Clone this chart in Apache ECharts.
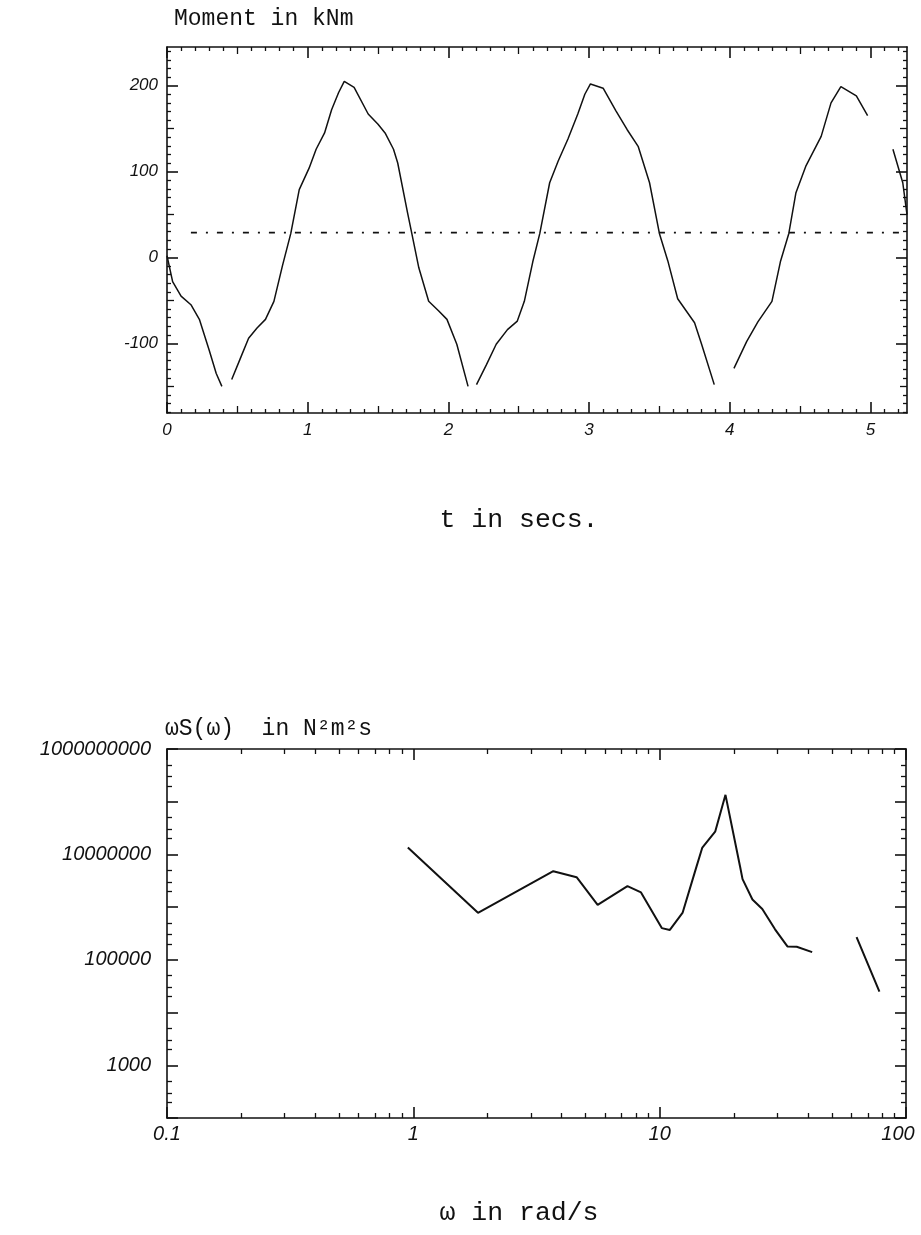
<!DOCTYPE html>
<html>
<head>
<meta charset="utf-8">
<script src="https://cdn.jsdelivr.net/npm/echarts@6/dist/echarts.min.js"></script>
<style>
html,body{margin:0;padding:0;background:#fff;}
#c{width:921px;height:1235px;}
</style>
</head>
<body>
<div id="c"></div>
<script>
// ---------- data: upper plot (moment time history) ----------
const timeS = [0, 0.04, 0.1, 0.17, 0.23, 0.3, 0.35, 0.39, null,
  0.46, 0.52, 0.58, 0.64, 0.7, 0.76, 0.82, 0.88, 0.94, 1.01, 1.06, 1.12, 1.17, 1.22, 1.26, 1.33, 1.43, 1.5, 1.55, 1.61, 1.64, 1.71, 1.74, 1.79, 1.86, 1.93, 1.99, 2.06, 2.14, null,
  2.2, 2.27, 2.34, 2.42, 2.49, 2.54, 2.6, 2.65, 2.72, 2.78, 2.85, 2.92, 2.97, 3.01, 3.1, 3.19, 3.27, 3.35, 3.43, 3.5, 3.56, 3.63, 3.69, 3.75, 3.8, 3.89, null,
  4.03, 4.12, 4.2, 4.3, 4.36, 4.42, 4.47, 4.54, 4.65, 4.72, 4.79, 4.9, 4.98, null,
  5.16, 5.23, 5.26];
const momentKNm = [2, -28, -45, -55, -72, -108, -135, -150, null,
  -142, -118, -94, -82, -72, -51, -10, 28, 79, 104, 126, 145, 172, 192, 205, 198, 167, 155, 145, 126, 110, 52, 28, -12, -51, -62, -72, -101, -150, null,
  -148, -125, -101, -84, -74, -51, -5, 28, 87, 112, 138, 167, 190, 202, 197, 171, 149, 129, 87, 28, -4, -48, -62, -76, -101, -148, null,
  -129, -98, -75, -51, -5, 28, 75, 106, 141, 180, 199, 188, 165, null,
  126, 87, 50];
const meanLevelT = [0.17, 5.24];
const meanLevelM = [29, 29];

// ---------- data: lower plot (response spectrum) ----------
const omegaRadS = [0.95, 1.83, 3.7, 4.6, 5.6, 7.4, 8.4, 10.2, 11, 12.4, 14, 14.9, 16.8, 18.5, 21.2, 21.7, 23.8, 26.1, 29.4, 33, 36, 41.6, null, 63, 78];
const omegaS = [1.35e7, 7.8e5, 4.8e6, 3.7e6, 1.1e6, 2.5e6, 1.9e6, 4e5, 3.7e5, 7.9e5, 5.2e6, 1.35e7, 2.7e7, 1.35e8, 5.9e6, 3.4e6, 1.4e6, 9.2e5, 3.8e5, 1.8e5, 1.77e5, 1.4e5, null, 2.7e5, 2.5e4];

// ---------- ticks ----------
const tTicks = [0, 1, 2, 3, 4, 5];
const mTicks = [-100, 0, 100, 200];
const sLabelExponents = [3, 5, 7, 9];

// ---------- axis ranges ----------
const T_MIN = 0, T_MAX = 5.26;
const M_MIN = -181, M_MAX = 245;
const W_MIN = 0.1, W_MAX = 100;
const S_MIN = 1e2, S_MAX = 1e9;

// derived tick sets (styling only)
const tHalf = [], tMinor = [];
for (let i = 1; i <= 52; i++) { const v = +(i / 10).toFixed(1); if (i % 10 === 5) tHalf.push(v); else if (i % 10 !== 0) tMinor.push(v); }
const mHalf = [], mMinor = [];
for (let v = -180; v <= 240; v += 10) { if (v % 100 === 0) continue; if (v % 50 === 0) mHalf.push(v); else mMinor.push(v); }
const wMinorExp = [];
for (let d = -1; d < 2; d++) for (let k = 2; k <= 9; k++) wMinorExp.push(d + Math.log10(k));
const sMinorExp = [];
for (let d = 2; d < 9; d++) for (let k of [2, 3, 5]) sMinorExp.push(d + Math.log10(k));

const INK = '#111';
const TICK_LABEL = { fontFamily: 'Liberation Sans', fontStyle: 'italic', fontSize: 17, color: INK };
const TICK_LABEL_BIG = { fontFamily: 'Liberation Sans', fontStyle: 'italic', fontSize: 20, color: INK };
const G0 = { left: 167, top: 47, width: 740, height: 366 };
const G1 = { left: 167, top: 749, width: 739, height: 369 };

function mainAxis(gridIndex, type, min, max, position, tickVals, labels, extra) {
  const ax = {
    type, gridIndex, min, max, position, silent: true,
    axisLine: { show: true, onZero: false, lineStyle: { color: INK, width: 1.6 } },
    axisTick: { show: true, inside: true, length: 11, lineStyle: { color: INK, width: 1.6 } },
    axisLabel: Object.assign({ show: labels, margin: 9 }, TICK_LABEL),
    splitLine: { show: false }
  };
  if (tickVals) { ax.axisTick.customValues = tickVals; ax.axisLabel.customValues = tickVals; }
  return Object.assign(ax, extra || {});
}
function tickOverlay(gridIndex, min, max, position, vals, len) {
  return {
    type: 'value', gridIndex, min, max, position, silent: true,
    axisLine: { show: false, onZero: false },
    axisTick: { show: true, inside: true, length: len, customValues: vals, lineStyle: { color: INK, width: 1.3 } },
    axisLabel: { show: false },
    splitLine: { show: false }
  };
}

const wLabel = Object.assign({
  margin: 6,
  formatter: v => (v >= W_MAX ? '{r|' + String(v) + '}' : String(v)),
  rich: { r: Object.assign({ padding: [0, 16, 0, 0] }, TICK_LABEL_BIG) }
}, TICK_LABEL_BIG);

const xAxes = [
  mainAxis(0, 'value', T_MIN, T_MAX, 'bottom', tTicks, true),
  mainAxis(0, 'value', T_MIN, T_MAX, 'top', tTicks, false),
  tickOverlay(0, T_MIN, T_MAX, 'bottom', tHalf, 7),
  tickOverlay(0, T_MIN, T_MAX, 'bottom', tMinor, 4),
  tickOverlay(0, T_MIN, T_MAX, 'top', tHalf, 7),
  tickOverlay(0, T_MIN, T_MAX, 'top', tMinor, 4),
  mainAxis(1, 'log', W_MIN, W_MAX, 'bottom', null, true, { logBase: 10, axisLabel: wLabel }),
  mainAxis(1, 'log', W_MIN, W_MAX, 'top', null, false, { logBase: 10 }),
  tickOverlay(1, -1, 2, 'bottom', wMinorExp, 5),
  tickOverlay(1, -1, 2, 'top', wMinorExp, 5)
];
const yAxes = [
  mainAxis(0, 'value', M_MIN, M_MAX, 'left', mTicks, true),
  mainAxis(0, 'value', M_MIN, M_MAX, 'right', mTicks, false),
  tickOverlay(0, M_MIN, M_MAX, 'left', mHalf, 7),
  tickOverlay(0, M_MIN, M_MAX, 'left', mMinor, 4),
  tickOverlay(0, M_MIN, M_MAX, 'right', mHalf, 7),
  tickOverlay(0, M_MIN, M_MAX, 'right', mMinor, 4),
  mainAxis(1, 'log', S_MIN, S_MAX, 'left', null, true, {
    logBase: 10, interval: 1,
    axisLabel: Object.assign({ margin: 16, formatter: v => sLabelExponents.indexOf(Math.round(Math.log10(v))) >= 0 ? String(Math.round(v)) : '' }, TICK_LABEL_BIG)
  }),
  mainAxis(1, 'log', S_MIN, S_MAX, 'right', null, false, { logBase: 10, interval: 1 }),
  tickOverlay(1, 2, 9, 'left', sMinorExp, 5),
  tickOverlay(1, 2, 9, 'right', sMinorExp, 5)
];

function pairs(xs, ys) { return xs.map((x, i) => (x == null || ys[i] == null) ? [null, null] : [x, ys[i]]); }

const TITLE_FONT = '"Liberation Mono", "DejaVu Sans Mono", monospace';
const option = {
  backgroundColor: '#fff',
  animation: false,
  grid: [
    Object.assign({ containLabel: false, outerBoundsMode: 'none' }, G0),
    Object.assign({ containLabel: false, outerBoundsMode: 'none' }, G1)
  ],
  xAxis: xAxes,
  yAxis: yAxes,
  graphic: [
    { type: 'text', x: 174, y: 19, style: { text: 'Moment in kNm', font: '23px ' + TITLE_FONT, fill: INK, align: 'left', verticalAlign: 'middle' } },
    { type: 'text', x: 519, y: 520, style: { text: 't in secs.', font: '26.5px ' + TITLE_FONT, fill: INK, align: 'center', verticalAlign: 'middle' } },
    { type: 'text', x: 165, y: 729, style: { text: 'ωS(ω)  in N²m²s', font: '23px ' + TITLE_FONT, fill: INK, align: 'left', verticalAlign: 'middle' } },
    { type: 'text', x: 519, y: 1213, style: { text: 'ω in rad/s', font: '26.5px ' + TITLE_FONT, fill: INK, align: 'center', verticalAlign: 'middle' } }
  ],
  series: [
    {
      type: 'line', xAxisIndex: 0, yAxisIndex: 0, data: pairs(timeS, momentKNm),
      showSymbol: false, symbol: 'none', connectNulls: false,
      lineStyle: { color: INK, width: 1.5 }, silent: true
    },
    {
      type: 'line', xAxisIndex: 0, yAxisIndex: 0, data: pairs(meanLevelT, meanLevelM),
      showSymbol: false, symbol: 'none',
      lineStyle: { color: INK, width: 1.8, type: [6, 9, 2, 9] }, silent: true
    },
    {
      type: 'line', xAxisIndex: 6, yAxisIndex: 6, data: pairs(omegaRadS, omegaS),
      showSymbol: false, symbol: 'none', connectNulls: false,
      lineStyle: { color: INK, width: 2 }, silent: true
    }
  ]
};
const chart = echarts.init(document.getElementById('c'), null, { renderer: 'canvas', width: 921, height: 1235 });
chart.setOption(option);
</script>
</body>
</html>
